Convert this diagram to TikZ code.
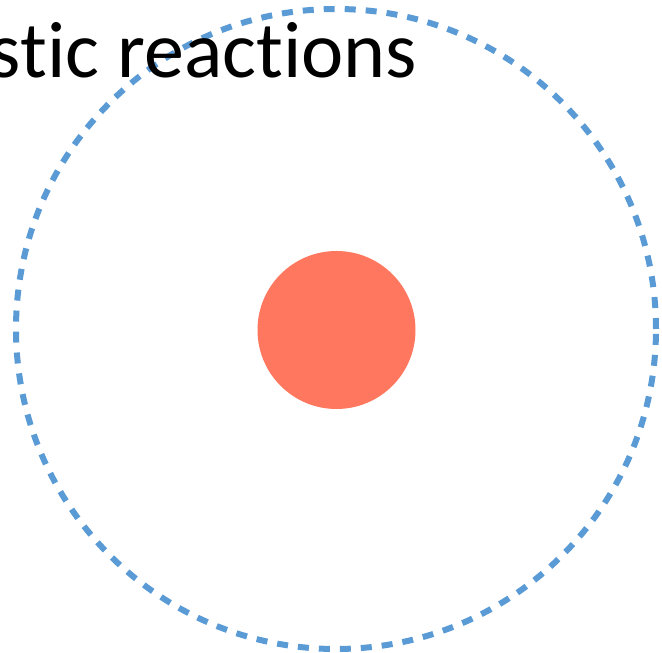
\documentclass[tikz,border=0pt]{standalone}
\usepackage{fontspec}
\setmainfont{Carlito}[Ligatures=NoCommon]
\usetikzlibrary{positioning}
\definecolor{ShellBlue}{HTML}{5B9BD5}
\definecolor{CoreCoral}{HTML}{FF775E}

\begin{document}
\begin{tikzpicture}[x=1pt, y=1pt]
% Frame of the picture (reference proportions)
\clip (0, 0) rectangle (662, 653);
\useasboundingbox (0, 0) rectangle (662, 653);

% Dashed outer shell
\node[circle, draw=ShellBlue, line width=6pt, dash pattern=on 11pt off 10pt,
      minimum size=640pt, inner sep=0pt] (shell) at (336, 324) {};

% Filled core
\node[circle, fill=CoreCoral, minimum size=158pt, inner sep=0pt] (core) at (336.5, 323) {};

% Title text, cut at the left edge
\node[anchor=base east, inner sep=0pt, font=\fontsize{80}{92}\selectfont] (title) at (417, 575) {stic reactions};
\end{tikzpicture}
\end{document}
